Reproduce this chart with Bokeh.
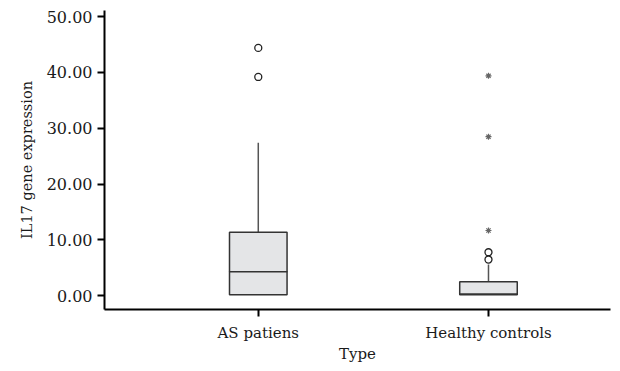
from bokeh.plotting import figure
from bokeh.models import FixedTicker, NumeralTickFormatter, Range1d, ColumnDataSource
from bokeh.embed import file_html
from bokeh.resources import INLINE

# ---- data ----
categories = ["AS patiens", "Healthy controls"]
q1 = [0.2, 0.2]
median = [4.3, 0.3]
q3 = [11.4, 2.5]
whisker_high = [27.4, 5.6]
outlier_group = ["AS patiens", "AS patiens", "Healthy controls", "Healthy controls"]
outlier_values = [44.4, 39.2, 7.8, 6.5]
extreme_group = ["Healthy controls", "Healthy controls", "Healthy controls"]
extreme_values = [39.4, 28.5, 11.7]
y_ticks = [0, 10, 20, 30, 40, 50]

FONT = "DejaVu Serif"
TXT = "#1a1a1a"
pos = {c: i + 1 for i, c in enumerate(categories)}
xs = [pos[c] for c in categories]

p = figure(width=620, height=371, output_backend="svg", toolbar_location=None,
           x_range=Range1d(0.332, 2.53), y_range=Range1d(-2.45, 51.1))
p.min_border_left = 104
p.min_border_right = 10
p.min_border_top = 10
p.min_border_bottom = 62
p.outline_line_color = None
p.xgrid.visible = False
p.ygrid.visible = False
p.background_fill_color = "white"
p.border_fill_color = "white"

box_src = ColumnDataSource(dict(x=xs, q1=q1, med=median, q3=q3, wh=whisker_high))
# whiskers
p.segment(x0="x", y0="q3", x1="x", y1="wh", source=box_src, line_color="#555555", line_width=1.5)
# boxes
p.vbar(x="x", width=0.25, bottom="q1", top="q3", source=box_src,
       fill_color="#e4e5e7", line_color="#333333", line_width=1.5)
# medians
p.rect(x="x", y="med", width=0.25, height=0.01, source=box_src,
       fill_color=None, line_color="#333333", line_width=1.5)

# outliers
p.scatter(x=[pos[g] for g in outlier_group], y=outlier_values, marker="circle",
          size=7, fill_color="white", line_color="#222222", line_width=1.3)
p.scatter(x=[pos[g] for g in extreme_group], y=extreme_values, marker="asterisk",
          size=6, line_color="#666666", line_width=1.2)

# axes
p.xaxis.ticker = FixedTicker(ticks=xs)
p.xaxis.major_label_overrides = {pos[c]: c for c in categories}
p.xaxis.minor_tick_line_color = None
p.yaxis.ticker = FixedTicker(ticks=y_ticks)
p.yaxis.formatter = NumeralTickFormatter(format="0.00")
p.yaxis.minor_tick_line_color = None

for ax in (p.xaxis, p.yaxis):
    ax.axis_line_width = 2
    ax.axis_line_color = "black"
    ax.major_tick_line_width = 2
    ax.major_tick_line_color = "black"
    ax.major_tick_in = 0
    ax.major_tick_out = 7
    ax.major_label_text_font = FONT
    ax.major_label_text_color = TXT
    ax.axis_label_text_font = FONT
    ax.axis_label_text_font_style = "normal"
    ax.axis_label_text_color = TXT

p.yaxis.major_label_text_font_size = "16px"
p.xaxis.major_label_text_font_size = "15px"
p.yaxis.major_label_standoff = 5
p.xaxis.major_label_standoff = 7
p.xaxis.axis_label = "Type"
p.yaxis.axis_label = "IL17 gene expression"
p.xaxis.axis_label_text_font_size = "15px"
p.yaxis.axis_label_text_font_size = "14.5px"
p.xaxis.axis_label_standoff = 0
p.yaxis.axis_label_standoff = 9

open("out.html", "w").write(file_html(p, INLINE))
